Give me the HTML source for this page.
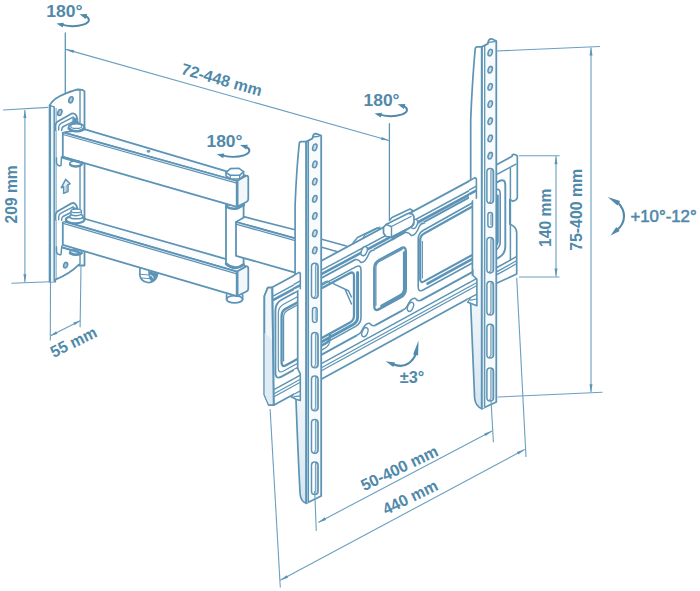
<!DOCTYPE html>
<html><head><meta charset="utf-8"><title>Wall mount dimensions</title>
<style>
html,body{margin:0;padding:0;background:#fff;}
body{width:700px;height:591px;overflow:hidden;}
svg{display:block;font-family:"Liberation Sans",sans-serif;}
</style></head><body>
<svg width="700" height="591" viewBox="0 0 700 591">
<rect x="0" y="0" width="700" height="591" fill="#fff"/>
<path d="M49.6,105.4 C52,100.8 59,96 65.4,93.6 C71,91.4 75,89.8 78.4,89.5 L82.4,89.8 L84.5,91.4 L84.5,265.5 L79.2,265.5 L79.2,264.4 C75,268.6 66,275.4 55.3,279.7 L55.3,281.7 L49.6,281.7 Z" stroke="#5d94b6" stroke-width="1.8" fill="#fff" stroke-linejoin="round" stroke-linecap="round" />
<path d="M49.6,105.4 L54.2,106.9 L54.2,281.7 L49.6,281.7 Z" stroke="#5d94b6" stroke-width="0" fill="#eef5fa" stroke-linejoin="round" stroke-linecap="round" />
<path d="M49.6,105.4 L54.2,106.9" stroke="#5d94b6" stroke-width="1.4" fill="none" stroke-linejoin="round" stroke-linecap="round" />
<line x1="54.2" y1="106.9" x2="54.2" y2="281.5" stroke="#5d94b6" stroke-width="1.5" />
<line x1="56.1" y1="108" x2="56.1" y2="279.4" stroke="#5d94b6" stroke-width="0.9" />
<line x1="80" y1="89.7" x2="80" y2="264.6" stroke="#5d94b6" stroke-width="1.4" />
<path d="M50,105.4 L50,281.7" stroke="#5d94b6" stroke-width="2.0" fill="none" stroke-linejoin="round" stroke-linecap="round" />
<ellipse cx="70.9" cy="99.8" rx="2.0" ry="3.1" stroke="#5d94b6" stroke-width="1.6" fill="#a9c5d8" transform="rotate(18 70.9 99.8)"/>
<ellipse cx="59.8" cy="112.5" rx="2.0" ry="3.1" stroke="#5d94b6" stroke-width="1.6" fill="#a9c5d8" transform="rotate(18 59.8 112.5)"/>
<ellipse cx="65.6" cy="265.2" rx="1.9" ry="2.8" stroke="#5d94b6" stroke-width="1.6" fill="#a9c5d8" transform="rotate(18 65.6 265.2)"/>
<path d="M65.7,179.4 L70.1,183.7 L68,184.7 L68,191.6 L63.6,193.3 L63.6,186.6 L61.3,187.7 Z" stroke="#5d94b6" stroke-width="1.5" fill="#e6f0f6" stroke-linejoin="round" stroke-linecap="round" />
<path d="M66.4,185.5 L67.8,184.9 L67.8,191.4 L66.4,192 Z" stroke="#5d94b6" stroke-width="0.5" fill="#9fbfd4" stroke-linejoin="round" stroke-linecap="round" />
<path d="M139.9,267 L139.9,275.5 C141,281.5 148,284.5 153.5,281 C156.5,279 157.6,276 157.6,272" stroke="#5d94b6" stroke-width="1.7" fill="#fff" stroke-linejoin="round" stroke-linecap="round" />
<path d="M148.5,271 L149.5,278.5 L152,282 Q157.4,278.5 157.6,273.5 Z" stroke="#5d94b6" stroke-width="0.8" fill="#5d94b6" stroke-linejoin="round" stroke-linecap="round" />
<path d="M140.5,274.3 L149,275 M141.5,278 L149.5,278.6" stroke="#5d94b6" stroke-width="1" fill="none" stroke-linejoin="round" stroke-linecap="round" />
<path d="M150.5,275.3 Q153,275.5 153.3,278" stroke="#fff" stroke-width="0.9" fill="none" stroke-linejoin="round" stroke-linecap="round" />
<ellipse cx="234.6" cy="299.3" rx="8" ry="3.6" stroke="#5d94b6" stroke-width="1.8" fill="#fff"/>
<path d="M226.6,295 L226.6,299.3 M242.6,295 L242.6,299.3" stroke="#5d94b6" stroke-width="1.8" fill="none" stroke-linejoin="round" stroke-linecap="round" />
<path d="M63.1,221.2 L85.4,219 L225.3,258.8 L246.8,266.5 L236.8,271.7 Z" stroke="#5d94b6" stroke-width="1.8" fill="#fafcfe" stroke-linejoin="round" stroke-linecap="round" />
<path d="M62.8,221.2 L236.8,271.7 L236.8,296.2 L62.8,244.9 Z" stroke="#5d94b6" stroke-width="1.8" fill="#fff" stroke-linejoin="round" stroke-linecap="round" />
<line x1="63.1" y1="223.4" x2="236.8" y2="273.9" stroke="#5d94b6" stroke-width="1.25" />
<path d="M236.8,271.7 L245.8,266.6 Q248.3,265.6 248.3,268.6 L248.3,288.5 Q248.3,290.6 246.5,291.5 L236.8,296.2 Z" stroke="#5d94b6" stroke-width="1.8" fill="#f1f7fb" stroke-linejoin="round" stroke-linecap="round" />
<line x1="237.3" y1="272" x2="237.3" y2="296" stroke="#5d94b6" stroke-width="2.4" />
<path d="M226,205 L243.6,203 L243.6,264.6 Q235,271.5 226,264.4 Z" stroke="#5d94b6" stroke-width="1.8" fill="#fff" stroke-linejoin="round" stroke-linecap="round" />
<path d="M226.2,263.8 Q234.8,271.4 243.4,264.6" stroke="#5d94b6" stroke-width="2.8" fill="none" stroke-linejoin="round" stroke-linecap="round" />
<path d="M226.2,206.6 Q231,209.5 237,208.6 L244,205" stroke="#5d94b6" stroke-width="2.4" fill="none" stroke-linejoin="round" stroke-linecap="round" />
<path d="M236,222 L244.7,216.9 L296,230 L296,238.6 Z" stroke="#5d94b6" stroke-width="1.7" fill="#fff" stroke-linejoin="round" stroke-linecap="round" />
<path d="M236,222 L296,238.6 L296,272.8 L236,255.8 Z" stroke="#5d94b6" stroke-width="1.8" fill="#fff" stroke-linejoin="round" stroke-linecap="round" />
<line x1="236" y1="224.2" x2="296" y2="240.8" stroke="#5d94b6" stroke-width="1.25" />
<path d="M63,132.3 L85,129.4 L226,171.2 L246.8,175.9 L236.8,181 Z" stroke="#5d94b6" stroke-width="1.8" fill="#fafcfe" stroke-linejoin="round" stroke-linecap="round" />
<path d="M62.8,132.3 L236.8,181 L236.8,206.8 L62.8,156.8 Z" stroke="#5d94b6" stroke-width="1.8" fill="#fff" stroke-linejoin="round" stroke-linecap="round" />
<line x1="63" y1="134.5" x2="236.8" y2="183.2" stroke="#5d94b6" stroke-width="1.25" />
<path d="M236.8,181 L245.8,176 Q248.3,175 248.3,178 L248.3,199 Q248.3,201.2 246.5,202 L236.8,206.8 Z" stroke="#5d94b6" stroke-width="1.8" fill="#f1f7fb" stroke-linejoin="round" stroke-linecap="round" />
<line x1="237.3" y1="181.3" x2="237.3" y2="206.6" stroke="#5d94b6" stroke-width="2.4" />
<ellipse cx="148.5" cy="151.3" rx="1.3" ry="0.7" stroke="#5d94b6" stroke-width="1.25" fill="none"/>
<path d="M226,172.6 L226,176 L230.3,179 L239.6,179 L243.6,175.6 L243.6,171.6 Z" stroke="#5d94b6" stroke-width="1.6" fill="#fff" stroke-linejoin="round" stroke-linecap="round" />
<path d="M226,172.6 L230.3,168.6 L239,168.3 L243.6,171.6 L239.6,175.3 L230.3,175.3 Z" stroke="#5d94b6" stroke-width="1.6" fill="#fff" stroke-linejoin="round" stroke-linecap="round" />
<path d="M230.3,175.3 L230.3,179 M239.6,175.3 L239.6,179" stroke="#5d94b6" stroke-width="1.3" fill="none" stroke-linejoin="round" stroke-linecap="round" />
<path d="M237.5,180.5 L246.5,175.6 L244,175.8 L240,179.3 Z" stroke="#5d94b6" stroke-width="1" fill="#5d94b6" stroke-linejoin="round" stroke-linecap="round" />
<path d="M55.5,130 L55.5,125.4 Q55.7,122.8 57.7,121.5 L71.4,113.7 Q74.6,112.4 76.3,115.6 L77.5,119.2 L77.5,128 L62,132 Z" stroke="#5d94b6" stroke-width="0" fill="#fff" stroke-linejoin="round" stroke-linecap="round" />
<path d="M55.5,130 L55.5,125.4 Q55.7,122.8 57.7,121.5 L71.4,113.7 Q74.6,112.4 76.3,115.6 L77.5,119.2" stroke="#5d94b6" stroke-width="1.8" fill="none" stroke-linejoin="round" stroke-linecap="round" />
<path d="M58.7,130 L58.7,127 Q58.9,124.6 61,123.4 L73.2,117.1" stroke="#5d94b6" stroke-width="1.4" fill="none" stroke-linejoin="round" stroke-linecap="round" />
<path d="M61.6,130.5 Q61.6,127.6 63.4,126.5 L75.6,120.6" stroke="#5d94b6" stroke-width="1.5" fill="none" stroke-linejoin="round" stroke-linecap="round" />
<path d="M73.2,117.3 L77.3,119 L79.3,124.2 L72.2,124.6 Z" stroke="#5d94b6" stroke-width="0.6" fill="#5d94b6" stroke-linejoin="round" stroke-linecap="round" />
<ellipse cx="76.4" cy="127.3" rx="7.9" ry="3.9" stroke="#5d94b6" stroke-width="1.7" fill="#fff"/>
<path d="M68.7,128.3 Q72,131.6 77.5,131.2 Q82.5,130.8 84.2,128" stroke="#5d94b6" stroke-width="2.6" fill="none" stroke-linejoin="round" stroke-linecap="round" />
<ellipse cx="76.2" cy="126.2" rx="5.6" ry="2.2" stroke="#5d94b6" stroke-width="1.2" fill="#fff"/>
<ellipse cx="75.8" cy="163.8" rx="6" ry="2.8" stroke="#5d94b6" stroke-width="1.7" fill="#fff"/>
<path d="M70,164.6 Q75.8,168 81.6,164.6" stroke="#5d94b6" stroke-width="2.2" fill="none" stroke-linejoin="round" stroke-linecap="round" />
<path d="M62.8,157.3 L82.5,163" stroke="#5d94b6" stroke-width="2.8" fill="none" stroke-linejoin="round" stroke-linecap="round" />
<path d="M56.5,158 L56.5,163 Q58,166.8 61,165.5 L61.5,157" stroke="#5d94b6" stroke-width="1.5" fill="#fff" stroke-linejoin="round" stroke-linecap="round" />
<path d="M55.5,219.7 L55.5,215.1 Q55.7,212.5 57.7,211.2 L71.4,203.4 Q74.6,202.1 76.3,205.3 L77.5,208.9 L77.5,217.7 L62,221.7 Z" stroke="#5d94b6" stroke-width="0" fill="#fff" stroke-linejoin="round" stroke-linecap="round" />
<path d="M55.5,219.7 L55.5,215.1 Q55.7,212.5 57.7,211.2 L71.4,203.4 Q74.6,202.1 76.3,205.3 L77.5,208.9" stroke="#5d94b6" stroke-width="1.8" fill="none" stroke-linejoin="round" stroke-linecap="round" />
<path d="M58.7,219.7 L58.7,216.7 Q58.9,214.3 61,213.1 L73.2,206.8" stroke="#5d94b6" stroke-width="1.4" fill="none" stroke-linejoin="round" stroke-linecap="round" />
<path d="M61.6,220.2 Q61.6,217.3 63.4,216.2 L75.6,210.3" stroke="#5d94b6" stroke-width="1.5" fill="none" stroke-linejoin="round" stroke-linecap="round" />
<path d="M73.2,207.0 L77.3,208.7 L79.3,213.9 L72.2,214.3 Z" stroke="#5d94b6" stroke-width="0.6" fill="#5d94b6" stroke-linejoin="round" stroke-linecap="round" />
<ellipse cx="75.2" cy="219.6" rx="9.3" ry="3.7" stroke="#5d94b6" stroke-width="2.2" fill="#fff"/>
<ellipse cx="76.4" cy="216.4" rx="6.6" ry="2.4" stroke="#5d94b6" stroke-width="1.6" fill="#fff"/>
<path d="M71,211 L71,214.6 Q76,217 81.4,214.4 L81.4,211" stroke="#5d94b6" stroke-width="1.3" fill="#fff" stroke-linejoin="round" stroke-linecap="round" />
<ellipse cx="76.2" cy="210.9" rx="5.2" ry="1.8" stroke="#5d94b6" stroke-width="1.3" fill="#fff"/>
<path d="M56.5,247 L56.5,252 Q58,255.5 61,254.5 L61.8,246" stroke="#5d94b6" stroke-width="1.5" fill="#fff" stroke-linejoin="round" stroke-linecap="round" />
<ellipse cx="75.8" cy="252.3" rx="6" ry="2.6" stroke="#5d94b6" stroke-width="1.6" fill="#dbe8f1"/>
<path d="M70,253.1 Q75.8,256.3 81.6,253.1" stroke="#5d94b6" stroke-width="2.4" fill="none" stroke-linejoin="round" stroke-linecap="round" />
<path d="M62.5,247.5 L79,252.3" stroke="#5d94b6" stroke-width="2.2" fill="none" stroke-linejoin="round" stroke-linecap="round" />
<path d="M320,238.8 L346.3,246 M320,246.8 L337.6,251.8" stroke="#5d94b6" stroke-width="1.5" fill="none" stroke-linejoin="round" stroke-linecap="round" />
<path d="M496,165.1 L512.1,156.3 L512.3,154.8 Q514.5,153.5 517.3,156 L517.3,197.5 Q517,200 513,201.3 L509.8,199.5 L509.8,224.2 Q516.7,226.5 516.7,233 L516.7,274 L496,283.6 Z" stroke="#5d94b6" stroke-width="1.7" fill="#fff" stroke-linejoin="round" stroke-linecap="round" />
<path d="M264.4,296 L267.8,287.6 L272.3,287.3 L476,177.4 L476,294.5 L273.7,405.2 L268.7,405 L264.4,394.7 Z" stroke="#5d94b6" stroke-width="1.8" fill="#fff" stroke-linejoin="round" stroke-linecap="round" />
<path d="M264.4,296 L264.4,394.7 L268.7,404.7 L273.7,404.7 L272.3,287.3 L267.8,287.6 Z" stroke="#5d94b6" stroke-width="1.7" fill="#f0f6fa" stroke-linejoin="round" stroke-linecap="round" />
<path d="M264.6,333 L264.6,394.5 L268.8,404.3 L272.8,404.3 L272.5,340 Z" stroke="#5d94b6" stroke-width="0" fill="#dfecf4" stroke-linejoin="round" stroke-linecap="round" />
<line x1="272.3" y1="287.3" x2="273.7" y2="404.7" stroke="#5d94b6" stroke-width="1.8" />
<line x1="273" y1="296.2" x2="476" y2="187.0" stroke="#5d94b6" stroke-width="1.5" />
<line x1="273" y1="300.2" x2="476" y2="191.0" stroke="#5d94b6" stroke-width="2.6" />
<line x1="496" y1="174.9" x2="516.5" y2="163.9" stroke="#5d94b6" stroke-width="1.5" />
<line x1="273.5" y1="397.0" x2="476" y2="286.0" stroke="#5d94b6" stroke-width="1.3" />
<line x1="496" y1="275.1" x2="516.5" y2="263.8" stroke="#5d94b6" stroke-width="1.3" />
<line x1="273.5" y1="394.0" x2="476" y2="283.0" stroke="#5d94b6" stroke-width="1.3" />
<line x1="496" y1="272.1" x2="516.5" y2="260.8" stroke="#5d94b6" stroke-width="1.3" />
<line x1="273.5" y1="389.9" x2="476" y2="278.9" stroke="#5d94b6" stroke-width="1.5" />
<line x1="496" y1="268.0" x2="516.5" y2="256.7" stroke="#5d94b6" stroke-width="1.5" />
<path d="M275.4,310.5 Q275.4,303.0 282.0,299.5 L498.7,181.4 Q505.3,177.8 505.3,185.3 L505.3,246.5 Q505.3,254.0 498.7,257.6 L282.0,376.4 Q275.4,380.0 275.4,372.5 Z" stroke="#5d94b6" stroke-width="1.9" fill="none" stroke-linejoin="round" stroke-linecap="round" />
<path d="M278.3,313.1 Q278.3,307.1 283.6,304.2 L324.7,282.1 Q330.0,279.3 330.0,285.3 L330.0,339.5 Q330.0,345.5 324.7,348.4 L283.6,371.0 Q278.3,373.9 278.3,367.9 Z" stroke="#5d94b6" stroke-width="1.2" fill="none" stroke-linejoin="round" stroke-linecap="round" />
<path d="M281.6,316.0 Q281.6,311.0 286.0,308.6 L325.6,287.3 Q330.0,285.0 330.0,290.0 L330.0,336.0 Q330.0,341.0 325.6,343.5 L286.0,365.2 Q281.6,367.6 281.6,362.6 Z" stroke="#5d94b6" stroke-width="2.4" fill="#fff" stroke-linejoin="round" stroke-linecap="round" />
<path d="M283.6,361.0 L283.6,316.9 Q283.6,312.7 287.5,310.4 L297,305.3" stroke="#5d94b6" stroke-width="1.2" fill="none" stroke-linejoin="round" stroke-linecap="round" />
<path d="M300.0,302.9 Q300.0,296.9 305.3,294.1 L355.7,266.9 Q361.0,264.1 361.0,270.1 L361.0,317.6 Q361.0,323.6 355.7,326.4 L305.3,354.1 Q300.0,357.0 300.0,351.0 Z" stroke="#5d94b6" stroke-width="1.6" fill="none" stroke-linejoin="round" stroke-linecap="round" />
<path d="M357.6,272.4 L357.6,317.1 Q357.6,322.1 353.2,324.5 L310.0,348.2" stroke="#5d94b6" stroke-width="3.0" fill="none" stroke-linejoin="round" stroke-linecap="round" />
<path d="M300.0,305.0 Q300.0,300.0 304.4,297.6 L349.6,273.3 Q354.0,270.9 354.0,275.9 L354.0,315.4 Q354.0,320.4 349.6,322.8 L304.4,347.6 Q300.0,350.0 300.0,345.0 Z" stroke="#5d94b6" stroke-width="2.3" fill="#fff" stroke-linejoin="round" stroke-linecap="round" />
<path d="M333.2,283.6 L348.4,290.7 L351.5,297 M345,289.2 L351.5,304" stroke="#5d94b6" stroke-width="1.5" fill="none" stroke-linejoin="round" stroke-linecap="round" />
<path d="M374.3,268.1 Q374.3,262.6 379.1,260.0 L401.0,248.3 Q405.8,245.7 405.8,251.2 L405.8,289.0 Q405.8,294.5 401.0,297.2 L379.1,309.1 Q374.3,311.8 374.3,306.3 Z" stroke="#5d94b6" stroke-width="2.4" fill="#fff" stroke-linejoin="round" stroke-linecap="round" />
<path d="M404.2,252.5 L404.2,288.8 Q404.2,293.3 400.2,295.4 L381.5,305.8" stroke="#5d94b6" stroke-width="2.6" fill="none" stroke-linejoin="round" stroke-linecap="round" />
<path d="M375.9,305.4 L375.9,267.8 Q375.9,263.6 379,261.8 L402,249.4" stroke="#5d94b6" stroke-width="1.2" fill="none" stroke-linejoin="round" stroke-linecap="round" />
<path d="M418.2,239.1 Q418.2,233.1 423.5,230.3 L494.9,190.3 Q500.2,187.5 500.2,193.5 L500.2,241.8 Q500.2,247.8 494.9,250.7 L423.5,289.8 Q418.2,292.7 418.2,286.7 Z" stroke="#5d94b6" stroke-width="1.6" fill="none" stroke-linejoin="round" stroke-linecap="round" />
<path d="M497.5,195.8 L497.5,240.7 Q497.5,245.2 493.5,247.3 L427.5,283.6" stroke="#5d94b6" stroke-width="2.6" fill="none" stroke-linejoin="round" stroke-linecap="round" />
<path d="M420.2,240.1 Q420.2,235.6 424.2,233.5 L491.5,195.8 Q495.5,193.6 495.5,198.1 L495.5,237.8 Q495.5,242.3 491.6,244.4 L424.1,281.4 Q420.2,283.5 420.2,279.0 Z" stroke="#5d94b6" stroke-width="2.2" fill="#fff" stroke-linejoin="round" stroke-linecap="round" />
<path d="M422.4,277.9 L422.4,241.2" stroke="#5d94b6" stroke-width="1.1" fill="none" stroke-linejoin="round" stroke-linecap="round" />
<line x1="510.4" y1="168" x2="510.4" y2="261" stroke="#5d94b6" stroke-width="1.5" />
<path d="M357.2,259.0 L373.2,250.4" stroke="#fff" stroke-width="3.2" fill="none" stroke-linejoin="round" stroke-linecap="round" />
<path d="M356.2,259.5 Q359.7,260.0 360.7,262.5 Q365.2,263.2 369.2,252.9 Q371.2,249.9 374.2,249.9" stroke="#5d94b6" stroke-width="1.5" fill="none" stroke-linejoin="round" stroke-linecap="round" />
<ellipse cx="364.2" cy="251.2" rx="2.7" ry="4.8" stroke="#5d94b6" stroke-width="1.4" fill="#fff" transform="rotate(22 364.2 251.2)"/>
<path d="M407.5,232.0 L423.5,223.4" stroke="#fff" stroke-width="3.2" fill="none" stroke-linejoin="round" stroke-linecap="round" />
<path d="M406.5,232.5 Q410.0,233.0 411.0,235.5 Q415.5,236.2 419.5,225.9 Q421.5,222.9 424.5,222.9" stroke="#5d94b6" stroke-width="1.5" fill="none" stroke-linejoin="round" stroke-linecap="round" />
<ellipse cx="414.5" cy="224" rx="2.7" ry="4.8" stroke="#5d94b6" stroke-width="1.4" fill="#fff" transform="rotate(22 414.5 224)"/>
<path d="M357.9,334.8 L373.9,326.0" stroke="#fff" stroke-width="3.2" fill="none" stroke-linejoin="round" stroke-linecap="round" />
<path d="M356.9,335.3 Q360.4,333.8 361.4,331.3 Q365.9,321.9 369.9,323.5 Q371.9,326.5 374.9,325.5" stroke="#5d94b6" stroke-width="1.5" fill="none" stroke-linejoin="round" stroke-linecap="round" />
<ellipse cx="364.9" cy="332.2" rx="2.7" ry="4.8" stroke="#5d94b6" stroke-width="1.4" fill="#fff" transform="rotate(22 364.9 332.2)"/>
<path d="M403.5,309.8 L419.5,301.0" stroke="#fff" stroke-width="3.2" fill="none" stroke-linejoin="round" stroke-linecap="round" />
<path d="M402.5,310.3 Q406.0,308.8 407.0,306.3 Q411.5,296.9 415.5,298.5 Q417.5,301.5 420.5,300.5" stroke="#5d94b6" stroke-width="1.5" fill="none" stroke-linejoin="round" stroke-linecap="round" />
<ellipse cx="410.5" cy="306.8" rx="2.7" ry="4.8" stroke="#5d94b6" stroke-width="1.4" fill="#fff" transform="rotate(22 410.5 306.8)"/>
<path d="M383.5,227.5 L386,224.5 L408,213.5 Q413,213 414,217 L414,222 Q413,226 410,227.5 L391.5,237 L386,236.5 L383.5,233 Z" stroke="#5d94b6" stroke-width="1.7" fill="#fff" stroke-linejoin="round" stroke-linecap="round" />
<path d="M386,224.5 L391.5,226.5 L391.5,237 M391.5,226.5 L411,216.5" stroke="#5d94b6" stroke-width="1.4" fill="none" stroke-linejoin="round" stroke-linecap="round" />
<path d="M391.5,237 L410,227.5 Q413.5,225.5 414,222 L414,225 L393,240 Z" stroke="#5d94b6" stroke-width="0.8" fill="#5d94b6" stroke-linejoin="round" stroke-linecap="round" />
<path d="M353,243 L357.5,237.5 L377,228 L380,229" stroke="#5d94b6" stroke-width="1.5" fill="none" stroke-linejoin="round" stroke-linecap="round" />
<path d="M363,238 L365,234.8 L380,227" stroke="#5d94b6" stroke-width="1.25" fill="none" stroke-linejoin="round" stroke-linecap="round" />
<path d="M389.5,220.5 L392,217.5 L410,209 L413.5,211 L410,213.5" stroke="#5d94b6" stroke-width="1.5" fill="none" stroke-linejoin="round" stroke-linecap="round" />
<defs><linearGradient id="gL" x1="0" y1="0" x2="0" y2="1"><stop offset="0" stop-color="#fff"/><stop offset="0.55" stop-color="#fff"/><stop offset="1" stop-color="#d6e6f0"/></linearGradient></defs>
<path d="M301,141.6 Q299.3,141.6 299.2,144 Q296.5,170 295.1,205 L295.1,273.6 L297.7,288.7 L297.7,368.6 L296,400 Q297.8,450 300.1,494 Q300.8,501.5 306.4,503.3 L306.4,141.6 Z" stroke="#5d94b6" stroke-width="1.7" fill="url(#gL)" stroke-linejoin="round" stroke-linecap="round" />
<path d="M306.4,141.6 L312.4,138.5 Q313,133.3 316,133.6 L321.2,135.6 L321.2,496 L306.4,503.3 Z" stroke="#5d94b6" stroke-width="1.8" fill="#f8fbfd" stroke-linejoin="round" stroke-linecap="round" />
<path d="M306.4,141.6 L308.4,502.4 L306.4,503.3 Z" stroke="#5d94b6" stroke-width="0" fill="#d4e5f0" stroke-linejoin="round" stroke-linecap="round" />
<path d="M306.4,141.6 L308.4,140.8 L312.4,138.5 M313,137 L319,136.3" stroke="#5d94b6" stroke-width="1.3" fill="none" stroke-linejoin="round" stroke-linecap="round" />
<line x1="308.4" y1="140.8" x2="308.4" y2="502.2" stroke="#5d94b6" stroke-width="1.3" />
<line x1="306.4" y1="141.6" x2="306.4" y2="503.3" stroke="#5d94b6" stroke-width="1.8" />
<ellipse cx="314.8" cy="147.3" rx="2.0" ry="3.4" stroke="#5d94b6" stroke-width="1.5" fill="#cddbe5" transform="rotate(18 314.8 147.3)"/>
<ellipse cx="314.8" cy="164.4" rx="2.0" ry="3.4" stroke="#5d94b6" stroke-width="1.5" fill="#cddbe5" transform="rotate(18 314.8 164.4)"/>
<ellipse cx="314.8" cy="181.6" rx="2.0" ry="3.4" stroke="#5d94b6" stroke-width="1.5" fill="#cddbe5" transform="rotate(18 314.8 181.6)"/>
<ellipse cx="314.8" cy="198.8" rx="2.0" ry="3.4" stroke="#5d94b6" stroke-width="1.5" fill="#cddbe5" transform="rotate(18 314.8 198.8)"/>
<ellipse cx="314.8" cy="216" rx="2.0" ry="3.4" stroke="#5d94b6" stroke-width="1.5" fill="#cddbe5" transform="rotate(18 314.8 216)"/>
<ellipse cx="314.8" cy="233.3" rx="2.0" ry="3.4" stroke="#5d94b6" stroke-width="1.5" fill="#cddbe5" transform="rotate(18 314.8 233.3)"/>
<ellipse cx="314.8" cy="250.4" rx="2.0" ry="3.4" stroke="#5d94b6" stroke-width="1.5" fill="#cddbe5" transform="rotate(18 314.8 250.4)"/>
<path d="M312.5,309.90000000000003 Q312.5,307.6 314.8,307.6 Q317.1,307.6 317.1,309.90000000000003 L317.1,320.09999999999997 Q317.1,322.4 314.8,322.4 Q312.5,322.4 312.5,320.09999999999997 Z" stroke="#5d94b6" stroke-width="1.5" fill="#fff" stroke-linejoin="round" stroke-linecap="round" />
<path d="M315.1,310.1 L315.1,319.9 L316.40000000000003,319.9 L316.40000000000003,310.1 Z" stroke="#5d94b6" stroke-width="0.5" fill="#cddbe5" stroke-linejoin="round" stroke-linecap="round" />
<path d="M311.5,266.5 Q311.5,263.2 314.8,263.2 Q318.1,263.2 318.1,266.5 L318.1,294.9 Q318.1,298.2 314.8,298.2 Q311.5,298.2 311.5,294.9 Z" stroke="#5d94b6" stroke-width="1.5" fill="#fff" stroke-linejoin="round" stroke-linecap="round" />
<path d="M315.40000000000003,266.7 L315.40000000000003,294.7 Q315.2,297.0 313.6,297.4 L315.8,297.8 Q317.6,297.2 317.6,294.7 L317.6,266.7 Q317.2,264.2 316.0,264.4 Z" stroke="#5d94b6" stroke-width="0.9" fill="#cddbe5" stroke-linejoin="round" stroke-linecap="round" />
<path d="M311.5,335.8 Q311.5,332.5 314.8,332.5 Q318.1,332.5 318.1,335.8 L318.1,364.5 Q318.1,367.8 314.8,367.8 Q311.5,367.8 311.5,364.5 Z" stroke="#5d94b6" stroke-width="1.5" fill="#fff" stroke-linejoin="round" stroke-linecap="round" />
<path d="M315.40000000000003,336.0 L315.40000000000003,364.3 Q315.2,366.6 313.6,367.0 L315.8,367.40000000000003 Q317.6,366.8 317.6,364.3 L317.6,336.0 Q317.2,333.5 316.0,333.7 Z" stroke="#5d94b6" stroke-width="0.9" fill="#cddbe5" stroke-linejoin="round" stroke-linecap="round" />
<path d="M311.5,379.3 Q311.5,376 314.8,376 Q318.1,376 318.1,379.3 L318.1,407.5 Q318.1,410.8 314.8,410.8 Q311.5,410.8 311.5,407.5 Z" stroke="#5d94b6" stroke-width="1.5" fill="#fff" stroke-linejoin="round" stroke-linecap="round" />
<path d="M315.40000000000003,379.5 L315.40000000000003,407.3 Q315.2,409.6 313.6,410.0 L315.8,410.40000000000003 Q317.6,409.8 317.6,407.3 L317.6,379.5 Q317.2,377 316.0,377.2 Z" stroke="#5d94b6" stroke-width="0.9" fill="#cddbe5" stroke-linejoin="round" stroke-linecap="round" />
<path d="M311.5,422.7 Q311.5,419.4 314.8,419.4 Q318.1,419.4 318.1,422.7 L318.1,450.09999999999997 Q318.1,453.4 314.8,453.4 Q311.5,453.4 311.5,450.09999999999997 Z" stroke="#5d94b6" stroke-width="1.5" fill="#fff" stroke-linejoin="round" stroke-linecap="round" />
<path d="M315.40000000000003,422.9 L315.40000000000003,449.9 Q315.2,452.2 313.6,452.59999999999997 L315.8,453.0 Q317.6,452.4 317.6,449.9 L317.6,422.9 Q317.2,420.4 316.0,420.59999999999997 Z" stroke="#5d94b6" stroke-width="0.9" fill="#cddbe5" stroke-linejoin="round" stroke-linecap="round" />
<path d="M311.5,465.3 Q311.5,462 314.8,462 Q318.1,462 318.1,465.3 L318.1,491.2 Q318.1,494.5 314.8,494.5 Q311.5,494.5 311.5,491.2 Z" stroke="#5d94b6" stroke-width="1.5" fill="#fff" stroke-linejoin="round" stroke-linecap="round" />
<path d="M315.40000000000003,465.5 L315.40000000000003,491.0 Q315.2,493.3 313.6,493.7 L315.8,494.1 Q317.6,493.5 317.6,491.0 L317.6,465.5 Q317.2,463 316.0,463.2 Z" stroke="#5d94b6" stroke-width="0.9" fill="#cddbe5" stroke-linejoin="round" stroke-linecap="round" />
<path d="M294,275.3254 L299.2,272.33599999999996 L300.3,273.33599999999996 L300.3,288.7 L294,292 Z" stroke="#5d94b6" stroke-width="0" fill="#fff" stroke-linejoin="round" stroke-linecap="round" />
<path d="M294,275.3254 L299.2,272.33599999999996 L300.3,273.33599999999996 L300.3,288.7" stroke="#5d94b6" stroke-width="1.6" fill="none" stroke-linejoin="round" stroke-linecap="round" />
<line x1="294" y1="284.3254" x2="300.3" y2="280.936" stroke="#5d94b6" stroke-width="1.4" />
<line x1="294" y1="288.5254" x2="300.3" y2="285.13599999999997" stroke="#5d94b6" stroke-width="2.4" />
<path d="M294,369.7756 L297.7,368.6 L300.3,373.8 L300.3,400.6 L296,399.3 L291.2,396.7 L294,394.2756 Z" stroke="#5d94b6" stroke-width="0" fill="#fff" stroke-linejoin="round" stroke-linecap="round" />
<path d="M297.7,368.6 L300.3,373.8 L300.3,400.6 L296,399.3 L291.2,396.7" stroke="#5d94b6" stroke-width="1.6" fill="none" stroke-linejoin="round" stroke-linecap="round" />
<path d="M291.2,396.7 L293.5,394.5 M294,396.6 L300.3,395.8" stroke="#5d94b6" stroke-width="1.2" fill="none" stroke-linejoin="round" stroke-linecap="round" />
<line x1="294" y1="385.7756" x2="300.3" y2="382.3232" stroke="#5d94b6" stroke-width="1.2" />
<line x1="294" y1="382.7756" x2="300.3" y2="379.3232" stroke="#5d94b6" stroke-width="1.2" />
<line x1="294" y1="378.6756" x2="300.3" y2="375.22319999999996" stroke="#5d94b6" stroke-width="1.4" />
<line x1="294" y1="394.2756" x2="300.3" y2="390.8232" stroke="#5d94b6" stroke-width="1.3" />
<path d="M477,46.8 Q475.5,46.8 475.2,49 Q472.3,80 470.7,120 L470.7,178.8 L472.4,200 L472.4,292 L470.5,299 Q472.5,350 474.6,398 Q475.5,406.5 482,408.7 L482,46.8 Z" stroke="#5d94b6" stroke-width="1.7" fill="url(#gL)" stroke-linejoin="round" stroke-linecap="round" />
<path d="M481.8,46.8 L487.8,43.8 Q488.3,38.6 491.5,38.8 L496.3,41 L496.3,402 L481.8,408.7 Z" stroke="#5d94b6" stroke-width="1.8" fill="#f8fbfd" stroke-linejoin="round" stroke-linecap="round" />
<path d="M481.8,46.8 L484.7,407.4 L481.8,408.7 Z" stroke="#5d94b6" stroke-width="0" fill="#d4e5f0" stroke-linejoin="round" stroke-linecap="round" />
<path d="M481.8,46.8 L484.7,45.8 L487.8,43.8 M488.6,42.3 L495,41.6" stroke="#5d94b6" stroke-width="1.3" fill="none" stroke-linejoin="round" stroke-linecap="round" />
<line x1="484.7" y1="45.8" x2="484.7" y2="407.4" stroke="#5d94b6" stroke-width="1.3" />
<line x1="481.8" y1="46.8" x2="481.8" y2="408.7" stroke="#5d94b6" stroke-width="1.8" />
<ellipse cx="490.2" cy="52.6" rx="2.0" ry="3.4" stroke="#5d94b6" stroke-width="1.5" fill="#cddbe5" transform="rotate(18 490.2 52.6)"/>
<ellipse cx="490.2" cy="69.7" rx="2.0" ry="3.4" stroke="#5d94b6" stroke-width="1.5" fill="#cddbe5" transform="rotate(18 490.2 69.7)"/>
<ellipse cx="490.2" cy="86.9" rx="2.0" ry="3.4" stroke="#5d94b6" stroke-width="1.5" fill="#cddbe5" transform="rotate(18 490.2 86.9)"/>
<ellipse cx="490.2" cy="104.1" rx="2.0" ry="3.4" stroke="#5d94b6" stroke-width="1.5" fill="#cddbe5" transform="rotate(18 490.2 104.1)"/>
<ellipse cx="490.2" cy="121.2" rx="2.0" ry="3.4" stroke="#5d94b6" stroke-width="1.5" fill="#cddbe5" transform="rotate(18 490.2 121.2)"/>
<ellipse cx="490.2" cy="138.4" rx="2.0" ry="3.4" stroke="#5d94b6" stroke-width="1.5" fill="#cddbe5" transform="rotate(18 490.2 138.4)"/>
<ellipse cx="490.2" cy="155.7" rx="2.0" ry="3.4" stroke="#5d94b6" stroke-width="1.5" fill="#cddbe5" transform="rotate(18 490.2 155.7)"/>
<path d="M487.9,214.9 Q487.9,212.6 490.2,212.6 Q492.5,212.6 492.5,214.9 L492.5,225.0 Q492.5,227.3 490.2,227.3 Q487.9,227.3 487.9,225.0 Z" stroke="#5d94b6" stroke-width="1.5" fill="#fff" stroke-linejoin="round" stroke-linecap="round" />
<path d="M490.5,215.1 L490.5,224.8 L491.8,224.8 L491.8,215.1 Z" stroke="#5d94b6" stroke-width="0.5" fill="#cddbe5" stroke-linejoin="round" stroke-linecap="round" />
<path d="M486.9,171.70000000000002 Q486.9,168.4 490.2,168.4 Q493.5,168.4 493.5,171.70000000000002 L493.5,199.89999999999998 Q493.5,203.2 490.2,203.2 Q486.9,203.2 486.9,199.89999999999998 Z" stroke="#5d94b6" stroke-width="1.5" fill="#fff" stroke-linejoin="round" stroke-linecap="round" />
<path d="M490.8,171.9 L490.8,199.7 Q490.59999999999997,202.0 489.0,202.39999999999998 L491.2,202.79999999999998 Q493.0,202.2 493.0,199.7 L493.0,171.9 Q492.59999999999997,169.4 491.4,169.6 Z" stroke="#5d94b6" stroke-width="0.9" fill="#cddbe5" stroke-linejoin="round" stroke-linecap="round" />
<path d="M486.9,240.8 Q486.9,237.5 490.2,237.5 Q493.5,237.5 493.5,240.8 L493.5,269.59999999999997 Q493.5,272.9 490.2,272.9 Q486.9,272.9 486.9,269.59999999999997 Z" stroke="#5d94b6" stroke-width="1.5" fill="#fff" stroke-linejoin="round" stroke-linecap="round" />
<path d="M490.8,241.0 L490.8,269.4 Q490.59999999999997,271.7 489.0,272.09999999999997 L491.2,272.5 Q493.0,271.9 493.0,269.4 L493.0,241.0 Q492.59999999999997,238.5 491.4,238.7 Z" stroke="#5d94b6" stroke-width="0.9" fill="#cddbe5" stroke-linejoin="round" stroke-linecap="round" />
<path d="M486.9,284.8 Q486.9,281.5 490.2,281.5 Q493.5,281.5 493.5,284.8 L493.5,311.7 Q493.5,315 490.2,315 Q486.9,315 486.9,311.7 Z" stroke="#5d94b6" stroke-width="1.5" fill="#fff" stroke-linejoin="round" stroke-linecap="round" />
<path d="M490.8,285.0 L490.8,311.5 Q490.59999999999997,313.8 489.0,314.2 L491.2,314.6 Q493.0,314 493.0,311.5 L493.0,285.0 Q492.59999999999997,282.5 491.4,282.7 Z" stroke="#5d94b6" stroke-width="0.9" fill="#cddbe5" stroke-linejoin="round" stroke-linecap="round" />
<path d="M486.9,327.5 Q486.9,324.2 490.2,324.2 Q493.5,324.2 493.5,327.5 L493.5,354.7 Q493.5,358 490.2,358 Q486.9,358 486.9,354.7 Z" stroke="#5d94b6" stroke-width="1.5" fill="#fff" stroke-linejoin="round" stroke-linecap="round" />
<path d="M490.8,327.7 L490.8,354.5 Q490.59999999999997,356.8 489.0,357.2 L491.2,357.6 Q493.0,357 493.0,354.5 L493.0,327.7 Q492.59999999999997,325.2 491.4,325.4 Z" stroke="#5d94b6" stroke-width="0.9" fill="#cddbe5" stroke-linejoin="round" stroke-linecap="round" />
<path d="M486.9,371.3 Q486.9,368 490.2,368 Q493.5,368 493.5,371.3 L493.5,397.7 Q493.5,401 490.2,401 Q486.9,401 486.9,397.7 Z" stroke="#5d94b6" stroke-width="1.5" fill="#fff" stroke-linejoin="round" stroke-linecap="round" />
<path d="M490.8,371.5 L490.8,397.5 Q490.59999999999997,399.8 489.0,400.2 L491.2,400.6 Q493.0,400 493.0,397.5 L493.0,371.5 Q492.59999999999997,369 491.4,369.2 Z" stroke="#5d94b6" stroke-width="0.9" fill="#cddbe5" stroke-linejoin="round" stroke-linecap="round" />
<path d="M469,181.1754 L475,177.6094 L476.4,178.9094 L476.4,198.3 L469,202 Z" stroke="#5d94b6" stroke-width="0" fill="#fff" stroke-linejoin="round" stroke-linecap="round" />
<path d="M469,181.1754 L475,177.6094 L476.4,178.9094 L476.4,198.3" stroke="#5d94b6" stroke-width="1.6" fill="none" stroke-linejoin="round" stroke-linecap="round" />
<line x1="469" y1="190.1754" x2="476.4" y2="186.19420000000002" stroke="#5d94b6" stroke-width="1.4" />
<line x1="469" y1="194.37539999999998" x2="476.4" y2="190.3942" stroke="#5d94b6" stroke-width="2.4" />
<path d="M469,276.4 L472.8,275.3 L476.9,279.3 L476.9,305.7 L467.8,302.2 L467.8,299.0 Z" stroke="#5d94b6" stroke-width="0" fill="#fff" stroke-linejoin="round" stroke-linecap="round" />
<path d="M472.8,270 L472.8,275.3 L476.9,279.3 L476.9,305.7 L467.8,302.2" stroke="#5d94b6" stroke-width="1.6" fill="none" stroke-linejoin="round" stroke-linecap="round" />
<path d="M467.8,302.2 L470.5,297.6 M470.5,300.1 L476.9,299.0" stroke="#5d94b6" stroke-width="1.2" fill="none" stroke-linejoin="round" stroke-linecap="round" />
<line x1="468" y1="290.42359999999996" x2="476.9" y2="285.54639999999995" stroke="#5d94b6" stroke-width="1.2" />
<line x1="468" y1="287.42359999999996" x2="476.9" y2="282.54639999999995" stroke="#5d94b6" stroke-width="1.2" />
<line x1="468" y1="283.32359999999994" x2="476.9" y2="278.4463999999999" stroke="#5d94b6" stroke-width="1.4" />
<line x1="468" y1="298.92359999999996" x2="476.9" y2="294.04639999999995" stroke="#5d94b6" stroke-width="1.4" />
<line x1="65.3" y1="32.4" x2="65.3" y2="93" stroke="#5d94b6" stroke-width="1.3" />
<line x1="66" y1="49.4" x2="389" y2="140.5" stroke="#6a9fc0" stroke-width="1.1" />
<polygon points="389.0,140.5 380.9,139.8 381.7,136.9" fill="#5d94b6"/>
<polygon points="66.0,49.4 74.1,50.1 73.3,53.0" fill="#5d94b6"/>
<text x="180.3" y="73.8" font-size="16" font-weight="bold" fill="#5089aa" text-anchor="start" textLength="83" lengthAdjust="spacingAndGlyphs" transform="rotate(15.8 180.3 73.8)">72-448 mm</text>
<line x1="389.4" y1="123.2" x2="389.4" y2="220.5" stroke="#5d94b6" stroke-width="1.3" />
<text x="46.3" y="17.4" font-size="16.5" font-weight="bold" fill="#5089aa" text-anchor="start" textLength="36.3" lengthAdjust="spacingAndGlyphs">180°</text>
<path d="M61.2,24.4 A16.3,6.3 0 0 0 85.8,16.2" stroke="#5089aa" stroke-width="1.9" fill="none" stroke-linejoin="round" stroke-linecap="round" />
<polygon points="56.4,23.6 63.8,22.7 62.7,27.6" fill="#5089aa"/>
<polygon points="79.5,14.2 87.3,14.1 85.7,18.9" fill="#5089aa"/>
<text x="363.6" y="106" font-size="16.5" font-weight="bold" fill="#5089aa" text-anchor="start" textLength="36" lengthAdjust="spacingAndGlyphs">180°</text>
<path d="M379.3,114.4 A16.3,6.3 0 0 0 403.9,106.2" stroke="#5089aa" stroke-width="1.9" fill="none" stroke-linejoin="round" stroke-linecap="round" />
<polygon points="374.5,113.6 381.9,112.7 380.8,117.6" fill="#5089aa"/>
<polygon points="397.6,104.2 405.4,104.1 403.8,108.9" fill="#5089aa"/>
<text x="206.5" y="147.4" font-size="16.5" font-weight="bold" fill="#5089aa" text-anchor="start" textLength="36" lengthAdjust="spacingAndGlyphs">180°</text>
<path d="M221.7,155.1 A16.3,6.3 0 0 0 246.3,146.9" stroke="#5089aa" stroke-width="1.9" fill="none" stroke-linejoin="round" stroke-linecap="round" />
<polygon points="216.9,154.3 224.3,153.4 223.2,158.3" fill="#5089aa"/>
<polygon points="240.0,144.9 247.8,144.8 246.2,149.6" fill="#5089aa"/>
<line x1="3" y1="110" x2="48.2" y2="107.4" stroke="#6a9fc0" stroke-width="1.1" />
<line x1="11.4" y1="283.2" x2="50" y2="281.7" stroke="#6a9fc0" stroke-width="1.1" />
<line x1="24.9" y1="110" x2="24.9" y2="282.3" stroke="#6a9fc0" stroke-width="1.1" />
<polygon points="24.9,282.3 23.4,274.3 26.4,274.3" fill="#5d94b6"/>
<polygon points="24.9,110.0 26.4,118.0 23.4,118.0" fill="#5d94b6"/>
<text x="17.1" y="223.4" font-size="16.4" font-weight="bold" fill="#5089aa" text-anchor="start" textLength="58" lengthAdjust="spacingAndGlyphs" transform="rotate(-90 17.1 223.4)">209 mm</text>
<line x1="50.5" y1="282" x2="50.3" y2="340.4" stroke="#6a9fc0" stroke-width="1.1" />
<line x1="81" y1="266.5" x2="80.1" y2="327.2" stroke="#6a9fc0" stroke-width="1.1" />
<line x1="50.5" y1="335.7" x2="80.2" y2="320.7" stroke="#6a9fc0" stroke-width="1.1" />
<polygon points="80.2,320.7 74.6,325.2 73.3,322.5" fill="#5d94b6"/>
<polygon points="50.5,335.7 56.1,331.2 57.4,333.9" fill="#5d94b6"/>
<text x="53.7" y="357.9" font-size="16.3" font-weight="bold" fill="#5089aa" text-anchor="start" textLength="49.5" lengthAdjust="spacingAndGlyphs" transform="rotate(-26 53.7 357.9)">55 mm</text>
<line x1="519" y1="155.7" x2="559.5" y2="155.7" stroke="#6a9fc0" stroke-width="1.1" />
<line x1="519" y1="277" x2="559.5" y2="277" stroke="#6a9fc0" stroke-width="1.1" />
<line x1="556" y1="156.3" x2="556" y2="276.4" stroke="#6a9fc0" stroke-width="1.1" />
<polygon points="556.0,276.4 554.5,268.4 557.5,268.4" fill="#5d94b6"/>
<polygon points="556.0,156.3 557.5,164.3 554.5,164.3" fill="#5d94b6"/>
<text x="551" y="247" font-size="16.4" font-weight="bold" fill="#5089aa" text-anchor="start" textLength="58.4" lengthAdjust="spacingAndGlyphs" transform="rotate(-90 551 247)">140 mm</text>
<line x1="496.5" y1="51" x2="600" y2="46.5" stroke="#6a9fc0" stroke-width="1.1" />
<line x1="497.5" y1="397" x2="602.5" y2="392.3" stroke="#6a9fc0" stroke-width="1.1" />
<line x1="591" y1="47.5" x2="591" y2="392.3" stroke="#6a9fc0" stroke-width="1.1" />
<polygon points="591.0,392.3 589.5,384.3 592.5,384.3" fill="#5d94b6"/>
<polygon points="591.0,47.5 592.5,55.5 589.5,55.5" fill="#5d94b6"/>
<text x="581.6" y="250.8" font-size="16.4" font-weight="bold" fill="#5089aa" text-anchor="start" textLength="82" lengthAdjust="spacingAndGlyphs" transform="rotate(-90 581.6 250.8)">75-400 mm</text>
<text x="630.4" y="221.6" font-size="16.3" font-weight="normal" fill="#5089aa" stroke="#5089aa" stroke-width="0.55" textLength="66.3" lengthAdjust="spacingAndGlyphs">+10°-12°</text>
<path d="M617.5,202 Q624.2,209 624,216.5 Q623.8,224.5 616.8,230.3" stroke="#5089aa" stroke-width="2.1" fill="none" stroke-linejoin="round" stroke-linecap="round" />
<polygon points="607.6,196.9 620.1,200.9 617.5,205.5" fill="#5089aa"/>
<polygon points="610.6,235.4 616.3,227.0 619.7,231.0" fill="#5089aa"/>
<text x="399.8" y="382.6" font-size="16" font-weight="bold" fill="#5089aa" text-anchor="start" textLength="24.5" lengthAdjust="spacingAndGlyphs">±3°</text>
<path d="M393,364.3 Q402,367.8 408.5,363.3 Q414,359.5 415.9,353.5" stroke="#5089aa" stroke-width="2.1" fill="none" stroke-linejoin="round" stroke-linecap="round" />
<polygon points="385.6,361.3 395.1,362.5 393.3,367.1" fill="#5089aa"/>
<polygon points="418.5,340.6 418.1,355.5 413.1,354.5" fill="#5089aa"/>
<line x1="314.7" y1="491" x2="316.3" y2="531" stroke="#6a9fc0" stroke-width="1.1" />
<line x1="491" y1="400.4" x2="493.4" y2="442.2" stroke="#6a9fc0" stroke-width="1.1" />
<line x1="318.3" y1="522.4" x2="492" y2="431" stroke="#6a9fc0" stroke-width="1.1" />
<polygon points="492.0,431.0 485.6,436.1 484.2,433.4" fill="#5d94b6"/>
<polygon points="318.3,522.4 324.7,517.3 326.1,520.0" fill="#5d94b6"/>
<text x="364.2" y="491.3" font-size="16.3" font-weight="bold" fill="#5089aa" text-anchor="start" textLength="83.5" lengthAdjust="spacingAndGlyphs" transform="rotate(-25.8 364.2 491.3)">50-400 mm</text>
<line x1="270.1" y1="409" x2="280.3" y2="587.5" stroke="#6a9fc0" stroke-width="1.1" />
<line x1="516.7" y1="277.8" x2="526" y2="457" stroke="#6a9fc0" stroke-width="1.1" />
<line x1="280.3" y1="580.3" x2="524.6" y2="449.5" stroke="#6a9fc0" stroke-width="1.1" />
<polygon points="524.6,449.5 518.3,454.6 516.8,452.0" fill="#5d94b6"/>
<polygon points="280.3,580.3 286.6,575.2 288.1,577.8" fill="#5d94b6"/>
<text x="385.9" y="515.3" font-size="16.3" font-weight="bold" fill="#5089aa" text-anchor="start" textLength="59.2" lengthAdjust="spacingAndGlyphs" transform="rotate(-25.9 385.9 515.3)">440 mm</text>
</svg>
</body></html>
